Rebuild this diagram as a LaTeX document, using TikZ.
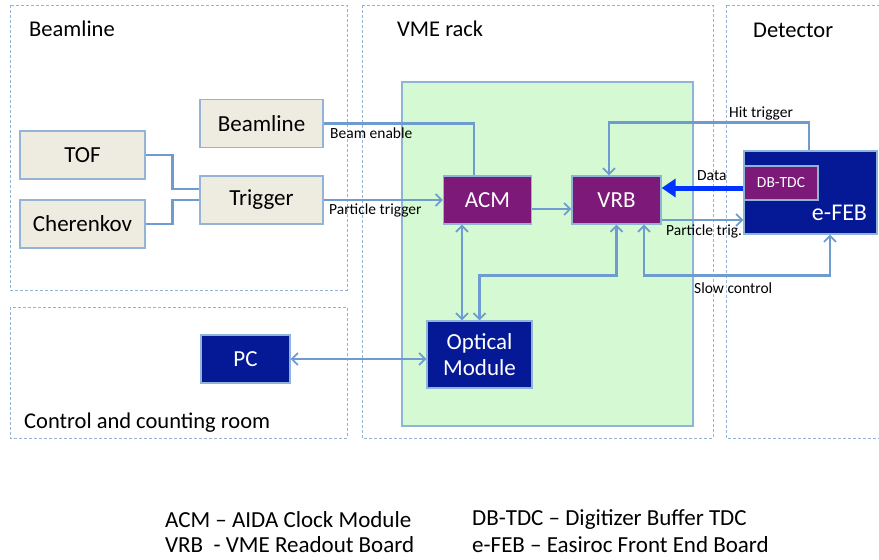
\documentclass[tikz,border=0pt]{standalone}
\usepackage{fontspec}
\setmainfont{Carlito}
\usetikzlibrary{arrows.meta}
\definecolor{linkblue}{RGB}{110,155,208}
\definecolor{zoneblue}{RGB}{149,179,215}
\definecolor{rackgreen}{RGB}{213,250,211}
\definecolor{rackedge}{RGB}{142,180,214}
\definecolor{boxbeige}{RGB}{238,236,225}
\definecolor{boardpurple}{RGB}{125,25,120}
\definecolor{boarddark}{RGB}{5,25,150}
\definecolor{databblue}{RGB}{0,51,255}

\begin{document}
\begin{tikzpicture}[
  x=1pt,y=-1pt,
  zone/.style={draw=zoneblue,line width=1pt,dash pattern=on 3pt off 2pt},
  title/.style={anchor=west,inner sep=0pt,font=\fontsize{22.5}{26}\selectfont},
  beigebox/.style={draw=zoneblue,line width=1.3pt,fill=boxbeige,inner sep=0pt,font=\fontsize{23}{26}\selectfont},
  board/.style={draw=rackedge,line width=1.3pt,fill=boardpurple,text=white,inner sep=0pt,font=\fontsize{23}{26}\selectfont},
  darkboard/.style={draw=rackedge,line width=1.3pt,fill=boarddark,text=white,inner sep=0pt,align=center,font=\fontsize{23}{26}\selectfont},
  tag/.style={anchor=west,inner sep=0pt,font=\fontsize{15.5}{18}\selectfont},
  legend/.style={anchor=west,inner sep=0pt,font=\fontsize{23}{26}\selectfont},
  link/.style={draw=linkblue,line width=2.8pt},
  arr/.style={link,-{Straight Barb[length=6pt,width=12pt,line width=1.8pt]}},
  darr/.style={link,{Straight Barb[length=6pt,width=12pt,line width=1.8pt]}-{Straight Barb[length=6pt,width=12pt,line width=1.8pt]}},
  dataarr/.style={draw=databblue,line width=5pt,-{Triangle[length=14pt,width=18pt]}}
]
  \useasboundingbox (0,0) rectangle (879,560);
  \draw[zone] (10,5) rectangle (347,290);
  \draw[zone] (10,307) rectangle (347,438);
  \draw[zone] (362,5) rectangle (713,438);
  \draw[zone] (726,5) rectangle (895,438);
  \node[title] (tbeam) at (29,29) {Beamline};
  \node[title] (tvme) at (397,29) {VME rack};
  \node[title] (tdet) at (753,30) {Detector};
  \node[title] (troom) at (24,423) {Control and counting room};

  \fill[rackgreen,draw=rackedge,line width=1.2pt] (402,82) rectangle (693,426);

  \node[beigebox,minimum width=123pt,minimum height=48pt] (beamline) at (261.5,123.5) {Beamline};
  \node[beigebox,minimum width=125pt,minimum height=48pt] (tof) at (82.5,155) {TOF};
  \node[beigebox,minimum width=125pt,minimum height=48pt] (cherenkov) at (82.5,224) {Cherenkov};
  \node[beigebox,minimum width=123pt,minimum height=48pt] (trigger) at (261.5,200) {Trigger};
  \node[board,minimum width=88pt,minimum height=48pt] (acm) at (487.5,200) {ACM};
  \node[board,minimum width=89pt,minimum height=48pt] (vrb) at (616.5,200) {VRB};
  \node[darkboard,minimum width=133pt,minimum height=83pt] (efeb) at (810.5,192.5) {};
  \node[board,minimum width=74pt,minimum height=34pt,font=\fontsize{15.5}{18}\selectfont] (dbtdc) at (781,183) {DB-TDC};
  \node[inner sep=0pt,text=white,font=\fontsize{24}{26}\selectfont] (efebtext) at (839.5,213) {e-FEB};
  \node[darkboard,minimum width=105pt,minimum height=67pt] (optical) at (479.5,354.5) {Optical\\Module};
  \node[darkboard,minimum width=89pt,minimum height=48pt] (pc) at (245.5,359) {PC};

  \draw[link] (tof.east) -- ++(27,0) |- ([yshift=11pt]trigger.west);
  \draw[link] (cherenkov.east) -- ++(27,0) |- (trigger.west);
  \draw[link] (beamline.east) -| ([xshift=-13.5pt]acm.north);
  \draw[arr] (trigger.east) -- (acm.west);
  \draw[arr] ([yshift=-9pt]acm.east) -- ([yshift=-9pt]vrb.west);
  \draw[arr] ([xshift=-1.5pt]efeb.north) -- ++(0,-28) -| ([xshift=-7.5pt]vrb.north);
  \draw[dataarr] ([yshift=-5pt]dbtdc.west) -- ([yshift=12pt]vrb.east);
  \draw[arr] ([yshift=-20pt]vrb.east) -- ([yshift=-27.5pt]efeb.west);
  \draw[darr] ([xshift=27.5pt]vrb.south) -- ++(0,51) -| ([xshift=19.5pt]efeb.south);
  \draw[darr] ([xshift=-25.5pt]acm.south) -- ([xshift=-17.5pt]optical.north);
  \draw[darr] (vrb.south) -- ++(0,51) -| (optical.north);
  \draw[darr] (pc.east) -- (optical.west |- pc.east);

  \node[tag] (lbeam) at (330,133) {Beam enable};
  \node[tag] (lptrig) at (329,210) {Particle trigger};
  \node[tag] (lhit) at (729,113) {Hit trigger};
  \node[tag] (ldata) at (697,176) {Data};
  \node[tag] (lpt) at (666,231) {Particle trig.};
  \node[tag] (lslow) at (694,288) {Slow control};

  \node[legend] (gacm) at (165,520) {ACM -- AIDA Clock Module};
  \node[legend] (gvrb) at (165,545) {VRB\ \ - VME Readout Board};
  \node[legend] (gdb) at (472,520) {DB-TDC -- Digitizer Buffer TDC};
  \node[legend] (gfeb) at (472,545) {e-FEB -- Easiroc Front End Board};
\end{tikzpicture}
\end{document}
